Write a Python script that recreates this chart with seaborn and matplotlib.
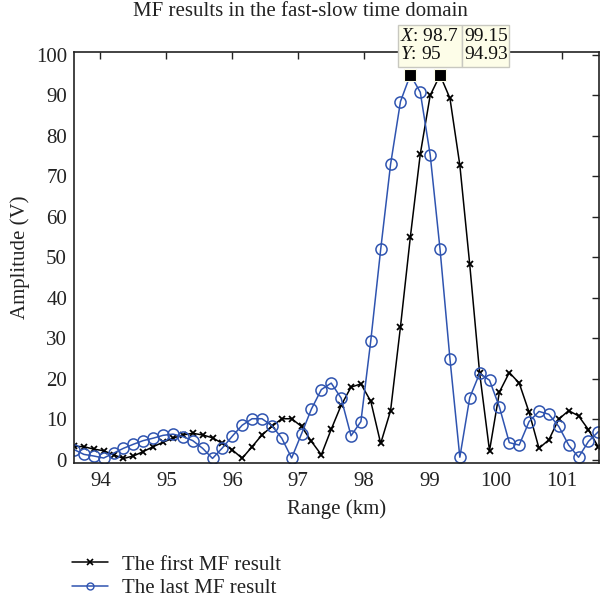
import matplotlib
matplotlib.use("Agg")
import matplotlib.pyplot as plt
import seaborn as sns
import pandas as pd
from matplotlib.patches import Rectangle
from matplotlib.lines import Line2D

range_km = [93.60, 93.75, 93.90, 94.05, 94.20, 94.35, 94.50, 94.65, 94.80, 94.95,
            95.10, 95.25, 95.40, 95.55, 95.70, 95.85, 96.00, 96.15, 96.30, 96.45,
            96.60, 96.75, 96.90, 97.05, 97.20, 97.35, 97.50, 97.65, 97.80, 97.95,
            98.10, 98.25, 98.40, 98.55, 98.70, 98.85, 99.00, 99.15, 99.30, 99.45,
            99.60, 99.75, 99.90, 100.05, 100.20, 100.35, 100.50, 100.65, 100.80, 100.95,
            101.10, 101.25, 101.40, 101.55]

first_mf = [3.3, 3.2, 2.6, 2.2, 1.2, 0.3, 0.9, 2.0, 3.2, 4.3,
            5.3, 6.1, 6.5, 6.1, 5.4, 4.0, 2.4, 0.35, 3.2, 6.1,
            8.2, 10.1, 10.1, 8.2, 4.5, 1.2, 7.5, 13.4, 17.9, 18.7,
            14.4, 4.0, 12.1, 32.8, 55.0, 75.4, 89.9, 94.93, 89.2, 72.7,
            48.2, 21.4, 2.2, 16.7, 21.5, 18.9, 11.7, 2.8, 4.9, 10.0,
            12.1, 10.8, 7.4, 3.1]

last_mf = [2.5, 1.3, 0.9, 0.4, 1.6, 2.8, 3.8, 4.7, 5.3, 6.0,
           6.3, 5.7, 4.7, 2.8, 0.3, 2.9, 5.8, 8.5, 10.1, 10.1,
           8.4, 5.3, 0.4, 6.4, 12.5, 17.3, 18.9, 15.2, 5.9, 9.4,
           29.4, 51.9, 72.9, 88.4, 95.0, 90.7, 75.3, 51.9, 24.9, 0.6,
           15.3, 21.3, 19.6, 13.0, 4.2, 3.6, 9.4, 11.9, 11.2, 8.2,
           3.6, 0.6, 4.5, 6.9]

series_names = ["The first MF result", "The last MF result"]
tip_x = [98.7, 99.15]
tip_y = [95, 94.93]
tip_x_text = ["98.7", "99.15"]
tip_y_text = ["95", "94.93"]

x_ticks = [94, 95, 96, 97, 98, 99, 100, 101]
y_ticks = [0, 10, 20, 30, 40, 50, 60, 70, 80, 90, 100]

sns.set_theme(style="white")
plt.rcParams["font.family"] = ["Liberation Serif", "DejaVu Serif"]
plt.rcParams["mathtext.fontset"] = "custom"
plt.rcParams["mathtext.it"] = "Liberation Serif:italic"
plt.rcParams["mathtext.rm"] = "Liberation Serif"

BLUE = "#2f54b0"
TXT = "#222222"
FS = 15

fig = plt.figure(figsize=(6.0, 6.01), dpi=100)
ax = fig.add_axes([74 / 600, 1 - 463.3 / 601, (599 - 74) / 600, (463.3 - 51.7) / 601])

df1 = pd.DataFrame({"x": range_km, "y": first_mf})
df2 = pd.DataFrame({"x": range_km, "y": last_mf})
sns.lineplot(data=df1, x="x", y="y", ax=ax, color="black", lw=1.1, marker="x",
             markersize=5, markeredgewidth=1.3, markeredgecolor="black", sort=False,
             estimator=None, legend=False)
sns.lineplot(data=df2, x="x", y="y", ax=ax, color=BLUE, lw=1.1, marker="o",
             markersize=8, markerfacecolor="none", markeredgecolor=BLUE,
             markeredgewidth=1.1, sort=False, estimator=None, legend=False)

ax.set_xlim(93.6, 101.56)
ax.set_ylim(-0.9, 100.7)
ax.set_xticks(x_ticks)
ax.set_yticks(y_ticks)
ax.tick_params(direction="in", length=5, width=1, top=True, right=True,
               labelsize=FS, colors=TXT, labelcolor=TXT, pad=5)
ax.tick_params(axis="x", pad=6)
for s in ax.spines.values():
    s.set_color(TXT)
    s.set_linewidth(1.2)
    s.set_visible(True)

ax.set_xlabel("Range (km)", fontsize=FS, color=TXT, labelpad=6)
ax.set_ylabel("Amplitude (V)", fontsize=FS, color=TXT, labelpad=4)
fig.text(0.5, 1 - 12 / 601, "MF results in the fast-slow time domain",
         ha="center", va="center", fontsize=FS, color=TXT)

# data tips
box_l = [98.51, 99.48]
box_r = [99.48, 100.19]
for i in range(2):
    ax.add_patch(Rectangle((box_l[i], 96.9), box_r[i] - box_l[i], 10.5,
                           facecolor="#fdfde8", edgecolor="#c8c8c0", lw=1.0,
                           clip_on=False, zorder=5))
    ax.text(box_l[i] + 0.035, 104.5,
            ("$\\mathit{X}$: " if i == 0 else "") + tip_x_text[i],
            ha="left", va="center", fontsize=14, color="#111111",
            clip_on=False, zorder=6)
    ax.text(box_l[i] + 0.035, 100.0,
            ("$\\mathit{Y}$: " if i == 0 else "") + tip_y_text[i],
            ha="left", va="center", fontsize=14, color="#111111",
            clip_on=False, zorder=6)
    ax.plot(tip_x[i], tip_y[i], marker="s", markersize=8.5, color="black",
            markeredgecolor="#fdfde8", markeredgewidth=0.8, clip_on=False, zorder=7)

handles = [Line2D([], [], color="black", lw=1.1, marker="x", markersize=4,
                  markeredgewidth=1.2),
           Line2D([], [], color=BLUE, lw=1.1, marker="o", markersize=5,
                  markerfacecolor="none", markeredgecolor=BLUE)]
fig.legend(handles, series_names, loc="upper left",
           bbox_to_anchor=(72 / 600, 1 - 555 / 601), frameon=False,
           borderpad=0, borderaxespad=0,
           fontsize=FS, handlelength=1.75, handletextpad=0.65, labelspacing=0.2,
           labelcolor=TXT)

fig.savefig("out.png", dpi=100)
